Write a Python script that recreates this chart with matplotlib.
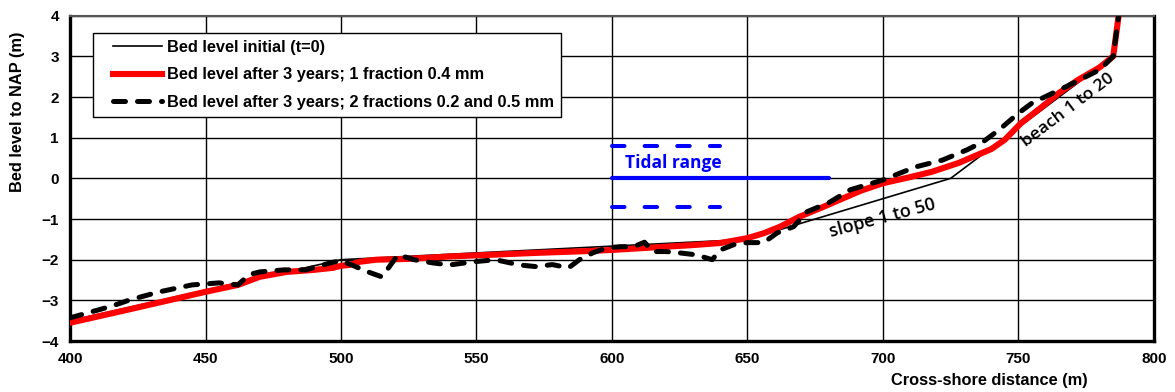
import matplotlib
matplotlib.use("Agg")
import matplotlib.pyplot as plt
from matplotlib.legend_handler import HandlerLine2D

# ---- data ----
x_init = [400, 500, 650, 725, 785, 787]
y_init = [-3.5, -2.0, -1.5, 0.0, 3.0, 4.0]

x_one = [400, 420, 450, 462, 470, 480, 490, 497, 500, 503, 507, 513, 525, 540, 555, 573,
         590, 600, 615, 630, 640, 650, 656, 662, 669, 677, 685, 692, 700, 710, 718, 728,
         735, 740, 745, 751, 758, 765, 772, 780, 785, 787]
y_one = [-3.55, -3.25, -2.79, -2.62, -2.42, -2.3, -2.25, -2.2, -2.15, -2.13, -2.05, -2.0,
         -1.98, -1.92, -1.88, -1.83, -1.79, -1.76, -1.70, -1.64, -1.59, -1.47, -1.35, -1.19,
         -0.95, -0.73, -0.5, -0.3, -0.12, 0.03, 0.16, 0.38, 0.58, 0.72, 0.95, 1.36, 1.72,
         2.1, 2.42, 2.73, 3.0, 4.0]

x_two = [400, 408, 415, 422, 433, 445, 455, 462, 466, 470, 479, 487, 496, 500, 504, 510,
         515, 517, 521, 527, 534, 540, 549, 557, 566, 572, 578, 584, 588, 593, 598, 603,
         608, 612, 615, 620, 626, 631, 637, 640, 645, 650, 656, 661, 667, 672, 680, 688,
         700, 712, 722, 731, 737, 743, 750, 755, 765, 772, 780, 785, 787]
y_two = [-3.43, -3.28, -3.15, -2.99, -2.79, -2.62, -2.57, -2.62, -2.37, -2.3, -2.25, -2.25,
         -2.08, -2.02, -2.13, -2.3, -2.42, -2.25, -1.88, -2.0, -2.08, -2.13, -2.05, -2.0,
         -2.13, -2.17, -2.12, -2.2, -2.0, -1.83, -1.71, -1.68, -1.68, -1.57, -1.8, -1.8,
         -1.84, -1.88, -2.0, -1.76, -1.63, -1.58, -1.58, -1.34, -1.19, -0.82, -0.6, -0.28,
         -0.04, 0.28, 0.45, 0.70, 0.90, 1.2, 1.6, 1.85, 2.17, 2.4, 2.67, 3.0, 4.0]

tide_x = [600, 680]
tide_mean = 0.0
tide_hw_x = [600, 640]
tide_high = 0.8
tide_low = -0.7

labels = ["Bed level initial (t=0)",
          "Bed level after 3 years; 1 fraction 0.4 mm",
          "Bed level after 3 years; 2 fractions 0.2 and 0.5 mm"]
xticks = [400, 450, 500, 550, 600, 650, 700, 750, 800]
yticks = [-4, -3, -2, -1, 0, 1, 2, 3, 4]

# ---- figure ----
plt.rcParams['font.family'] = ['Liberation Sans', 'DejaVu Sans']
fig = plt.figure(figsize=(11.75, 3.92), dpi=100)
ax = fig.add_axes([0.0596, 0.130, 0.9224, 0.830])

ax.set_xlim(400, 800)
ax.set_ylim(-4, 4)
ax.set_xticks(xticks)
ax.set_yticks(yticks)
ax.grid(True, color='black', linewidth=1.0)
ax.set_axisbelow(True)
ax.tick_params(length=0, labelsize=11, pad=8)
for lab in ax.get_xticklabels() + ax.get_yticklabels():
    lab.set_fontweight('bold')

for side in ['left', 'bottom', 'right']:
    ax.spines[side].set_linewidth(2.4)
    ax.spines[side].set_color('black')
ax.spines['top'].set_linewidth(1.5)
ax.spines['top'].set_color('#555555')

# tidal range
ax.plot(tide_x, [tide_mean, tide_mean], color='#0000ff', lw=3.0, solid_capstyle='round')
for yv in (tide_high, tide_low):
    ax.plot(tide_hw_x, [yv, yv], color='#0000ff', lw=2.9,
            linestyle=(0, (3.1, 5.0)), dash_capstyle='round')
ax.text(622.5, 0.38, "Tidal range", color='#0000ff', fontsize=12.5, fontweight='bold',
        family=['Open Sans', 'DejaVu Sans'], ha='center', va='center')

l0, = ax.plot(x_init, y_init, color='black', lw=1.2, zorder=3)
l1, = ax.plot(x_one, y_one, color='#ff0000', lw=4.4, zorder=4, solid_joinstyle='round')
l2, = ax.plot(x_two, y_two, color='black', lw=3.6, zorder=5,
              linestyle=(0, (2.4, 2.4)), dash_capstyle='round')

ax.text(700, -0.97, "slope 1 to 50", rotation=15, fontsize=13, fontweight='semibold',
        family=['Open Sans', 'DejaVu Sans'], ha='center', va='center', rotation_mode='anchor')
ax.text(768.3, 1.68, "beach 1 to 20", rotation=37, fontsize=12.5, fontweight='semibold',
        family=['Open Sans', 'DejaVu Sans'], ha='center', va='center', rotation_mode='anchor')

hmap = {h: HandlerLine2D(xpad=0.8) for h in (l0, l1, l2)}
leg = ax.legend([l0, l1, l2], labels, loc='upper left', bbox_to_anchor=(0.021, 0.947),
                borderaxespad=0, fancybox=False, framealpha=1, edgecolor='black',
                prop={'weight': 'bold', 'size': 11.8}, handlelength=3.8, handletextpad=0.3,
                labelspacing=0.76, borderpad=0.42, handler_map=hmap)
leg.get_frame().set_linewidth(1.0)
leg.set_zorder(10)

fig.text(1088 / 1175, 1 - 381 / 392, "Cross-shore distance (m)", ha='right', va='center',
         fontsize=11.8, fontweight='bold')
fig.text(18 / 1175, 1 - 112 / 392, "Bed level to NAP (m)", ha='center', va='center',
         rotation=90, fontsize=11.8, fontweight='bold')

fig.savefig("out.png", dpi=100)
